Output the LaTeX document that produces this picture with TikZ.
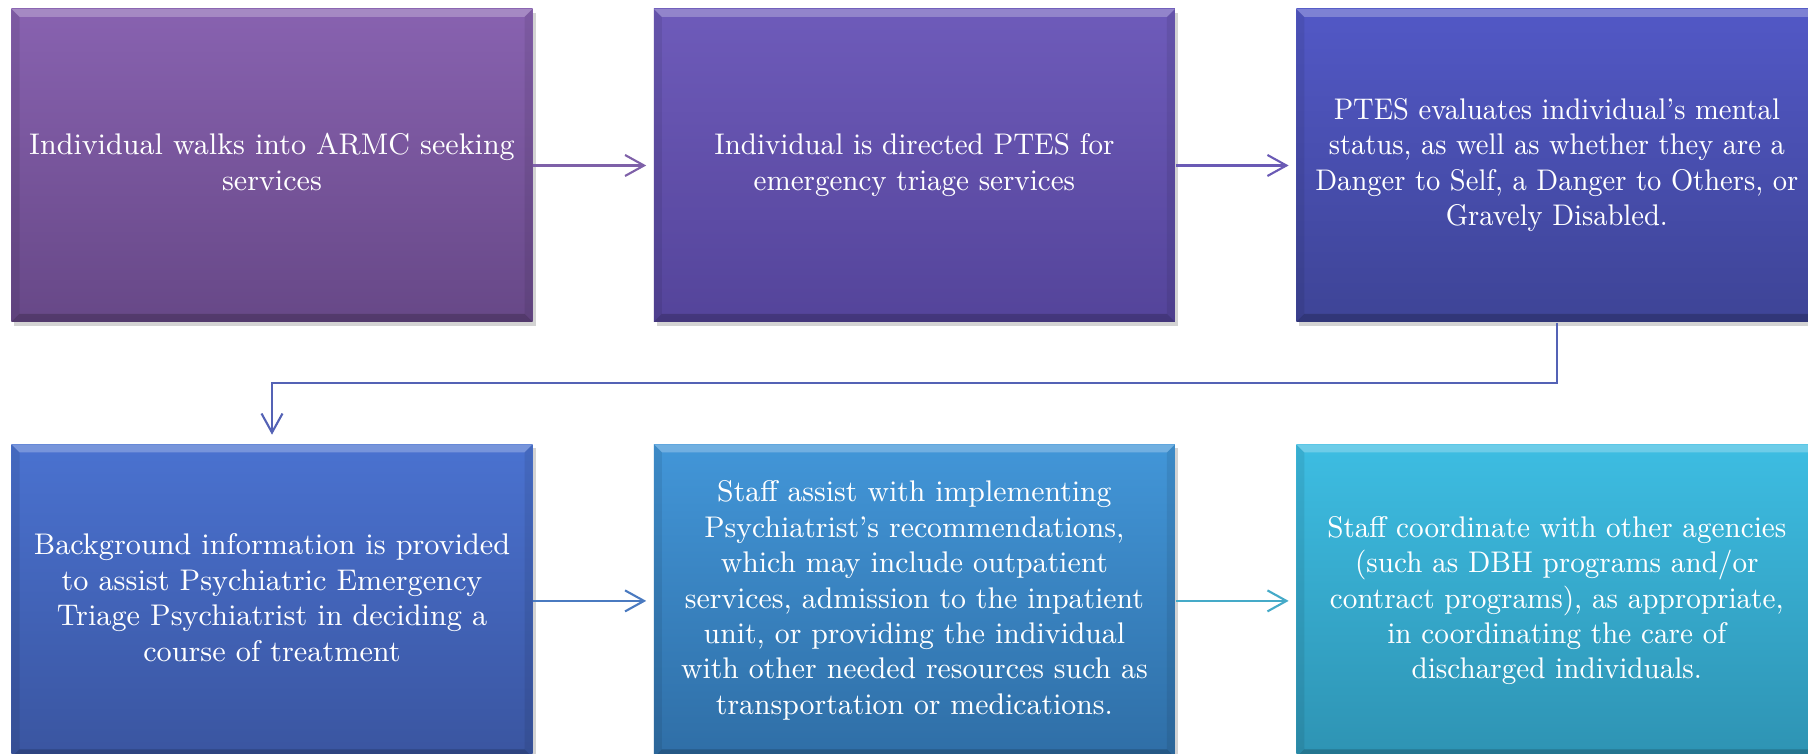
\documentclass[tikz,border=0pt]{standalone}
\usepackage{graphicx}
\usetikzlibrary{positioning, arrows.meta, shadows}

\definecolor{boxAtop}{HTML}{8862B0}\definecolor{boxAbot}{HTML}{674887}
\definecolor{boxBtop}{HTML}{6E5BBA}\definecolor{boxBbot}{HTML}{54449A}
\definecolor{boxCtop}{HTML}{5258C6}\definecolor{boxCbot}{HTML}{3E4496}
\definecolor{boxDtop}{HTML}{4A72D0}\definecolor{boxDbot}{HTML}{3A55A0}
\definecolor{boxEtop}{HTML}{4296D8}\definecolor{boxEbot}{HTML}{2F6EA6}
\definecolor{boxFtop}{HTML}{3DBDE2}\definecolor{boxFbot}{HTML}{2E93B3}
\definecolor{lineA}{HTML}{7E60A8}
\definecolor{lineB}{HTML}{6A5AB5}
\definecolor{lineC}{HTML}{5462B5}
\definecolor{lineD}{HTML}{4A7AC0}
\definecolor{lineE}{HTML}{45AAC8}

\newcommand{\narrowtext}[2]{\scalebox{#1}[1]{\begin{tabular}{@{}c@{}}#2\end{tabular}}}

\tikzstyle{stage} = [rectangle, minimum width=5.21cm, minimum height=3.13cm, text centered, text=white, inner sep=0pt, font=\fontsize{8.5}{10.1}\selectfont, drop shadow={shadow xshift=0.03cm, shadow yshift=-0.04cm, opacity=0.35},
  path picture={
    \fill[white, opacity=0.25] (path picture bounding box.north west) -- (path picture bounding box.north east) -- ([xshift=-0.08cm, yshift=-0.08cm]path picture bounding box.north east) -- ([xshift=0.08cm, yshift=-0.08cm]path picture bounding box.north west) -- cycle;
    \fill[black, opacity=0.2] (path picture bounding box.south west) -- (path picture bounding box.south east) -- ([xshift=-0.08cm, yshift=0.08cm]path picture bounding box.south east) -- ([xshift=0.08cm, yshift=0.08cm]path picture bounding box.south west) -- cycle;
    \fill[black, opacity=0.08] (path picture bounding box.north west) -- ([xshift=0.08cm, yshift=-0.08cm]path picture bounding box.north west) -- ([xshift=0.08cm, yshift=0.08cm]path picture bounding box.south west) -- (path picture bounding box.south west) -- cycle;
    \fill[black, opacity=0.08] (path picture bounding box.north east) -- ([xshift=-0.08cm, yshift=-0.08cm]path picture bounding box.north east) -- ([xshift=-0.08cm, yshift=0.08cm]path picture bounding box.south east) -- (path picture bounding box.south east) -- cycle;
  }]
\tikzstyle{arrow} = [line width=0.6pt, -{Straight Barb[length=1.9mm, width=2.1mm]}, shorten >=0.07cm]

\begin{document}
\begin{tikzpicture}[node distance=1.2cm]
\useasboundingbox (0,0) rectangle (18.08,7.54);

\node (walkin) [stage, top color=boxAtop, bottom color=boxAbot] at (2.72,5.885) {\narrowtext{0.98}{Individual walks into ARMC seeking\\ services}};
\node (triage) [stage, right=of walkin, top color=boxBtop, bottom color=boxBbot] {\narrowtext{0.945}{Individual is directed PTES for\\ emergency triage services}};
\node (evaluate) [stage, right=of triage, top color=boxCtop, bottom color=boxCbot] {\narrowtext{0.93}{PTES evaluates individual’s mental\\ status, as well as whether they are a\\ Danger to Self, a Danger to Others, or\\ Gravely Disabled.}};

\node (background) [stage, below=1.21cm of walkin, top color=boxDtop, bottom color=boxDbot] {\narrowtext{0.985}{Background information is provided\\ to assist Psychiatric Emergency\\ Triage Psychiatrist in deciding a\\ course of treatment}};
\node (implement) [stage, right=of background, top color=boxEtop, bottom color=boxEbot] {\narrowtext{0.97}{Staff assist with implementing\\ Psychiatrist’s recommendations,\\ which may include outpatient\\ services, admission to the inpatient\\ unit, or providing the individual\\ with other needed resources such as\\ transportation or medications.}};
\node (coordinate) [stage, right=of implement, top color=boxFtop, bottom color=boxFbot] {\narrowtext{0.95}{Staff coordinate with other agencies\\ (such as DBH programs and/or\\ contract programs), as appropriate,\\ in coordinating the care of\\ discharged individuals.}};

\coordinate (bend) at ([yshift=-0.605cm]evaluate.south);

\draw [arrow, lineA] (walkin) -- (triage);
\draw [arrow, lineB] (triage) -- (evaluate);
\draw [arrow, lineC, shorten >=0.09cm] (evaluate.south) -- (bend) -| (background.north);
\draw [arrow, lineD] (background) -- (implement);
\draw [arrow, lineE] (implement) -- (coordinate);

\end{tikzpicture}
\end{document}
